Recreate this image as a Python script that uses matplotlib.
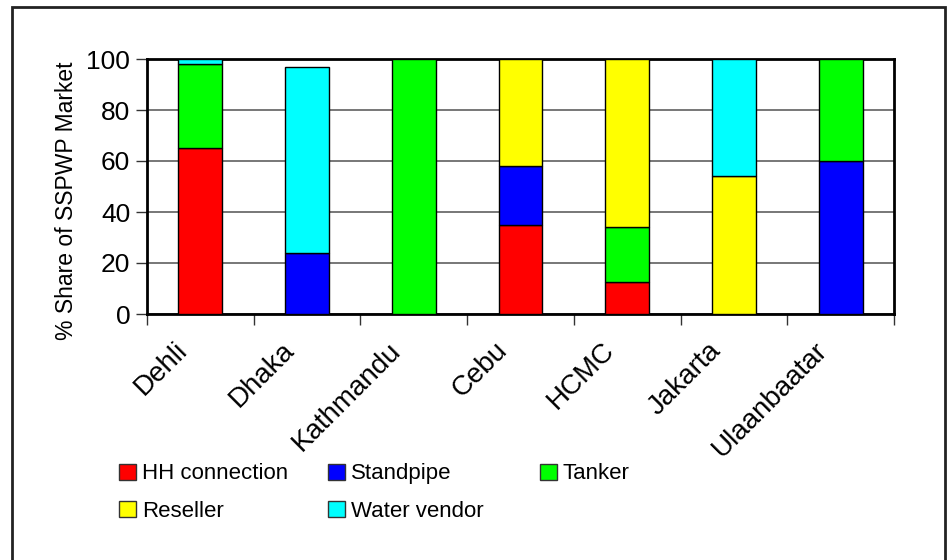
import matplotlib.pyplot as plt
import matplotlib.patches as mpl_patches
import matplotlib.transforms as mtransforms
import numpy as np

plt.rcParams['font.family'] = ['Liberation Sans', 'DejaVu Sans']

cities = ["Dehli", "Dhaka", "Kathmandu", "Cebu", "HCMC", "Jakarta", "Ulaanbaatar"]
hh_connection = [65, 0, 0, 35, 12.5, 0, 0]
standpipe = [0, 24, 0, 23, 0, 0, 60]
tanker = [33, 0, 100, 0, 21.5, 0, 40]
reseller = [0, 0, 0, 42, 66, 54, 0]
water_vendor = [2, 73, 0, 0, 0, 46, 0]

series = [
    ("HH connection", hh_connection, "#ff0000"),
    ("Standpipe", standpipe, "#0000ff"),
    ("Tanker", tanker, "#00ff00"),
    ("Reseller", reseller, "#ffff00"),
    ("Water vendor", water_vendor, "#00ffff"),
]

W, H = 948, 560
fig = plt.figure(figsize=(W / 100, H / 100), dpi=100)

# outer frame around the whole chart
fig.patches.append(mpl_patches.Rectangle((12 / W, 0 - 4 / H), 933 / W, (H - 7 + 4) / H,
                                         transform=fig.transFigure, fill=False,
                                         edgecolor="#222222", linewidth=2))

ax = fig.add_axes([147 / W, 1 - 314 / H, 747 / W, 255 / H])

x = np.arange(len(cities))
bottom = np.zeros(len(cities))
handles = []
for name, vals, color in series:
    vals = np.array(vals, dtype=float)
    mask = vals > 0
    ax.bar(x[mask], vals[mask], 0.41, bottom=bottom[mask], color=color,
           edgecolor="black", linewidth=1, zorder=3)
    bottom += vals
    handles.append(mpl_patches.Patch(facecolor=color, edgecolor="#333333", linewidth=1, label=name))

ax.set_xlim(-0.5, len(cities) - 0.5)
ax.set_ylim(0, 100)
ax.set_yticks(range(0, 101, 20))
ax.yaxis.grid(True, color="#606060", linewidth=1.2, zorder=0)
ax.set_axisbelow(True)

for sp in ax.spines.values():
    sp.set_linewidth(2)
    sp.set_color("black")

# category ticks sit between the groups
ax.set_xticks(np.arange(-0.5, len(cities)), minor=False)
ax.set_xticklabels([])
ax.tick_params(axis="x", which="major", length=8, width=1, color="#333333", direction="out")
ax.set_xticks(x, minor=True)
labels = ax.set_xticklabels(cities, minor=True, rotation=45, ha="right", va="baseline",
                            rotation_mode="anchor", fontsize=20)
ax.tick_params(axis="x", which="minor", length=0, pad=27)
shift = mtransforms.ScaledTranslation(-12 / 100, 0, fig.dpi_scale_trans)
for lab in labels:
    lab.set_transform(lab.get_transform() + shift)
ax.tick_params(axis="y", length=8, width=1, color="#333333", labelsize=19, pad=4)

ax.set_ylabel("% Share of SSPWP Market", fontsize=16.5)
ax.yaxis.set_label_coords(-0.093, 0.443)

# legend laid out in three equal columns, two rows
columns = [[handles[0], handles[3]], [handles[1], handles[4]], [handles[2]]]
col_x = [115, 324, 536]
for hs, cx in zip(columns, col_x):
    fig.legend(handles=hs, loc="upper left", bbox_to_anchor=(cx / W, 1 - 459 / H),
               frameon=False, fontsize=16, handlelength=0.75, handleheight=0.75,
               handletextpad=0.25, labelspacing=0.73, borderaxespad=0, borderpad=0.2)

fig.savefig("out.png", dpi=100)
